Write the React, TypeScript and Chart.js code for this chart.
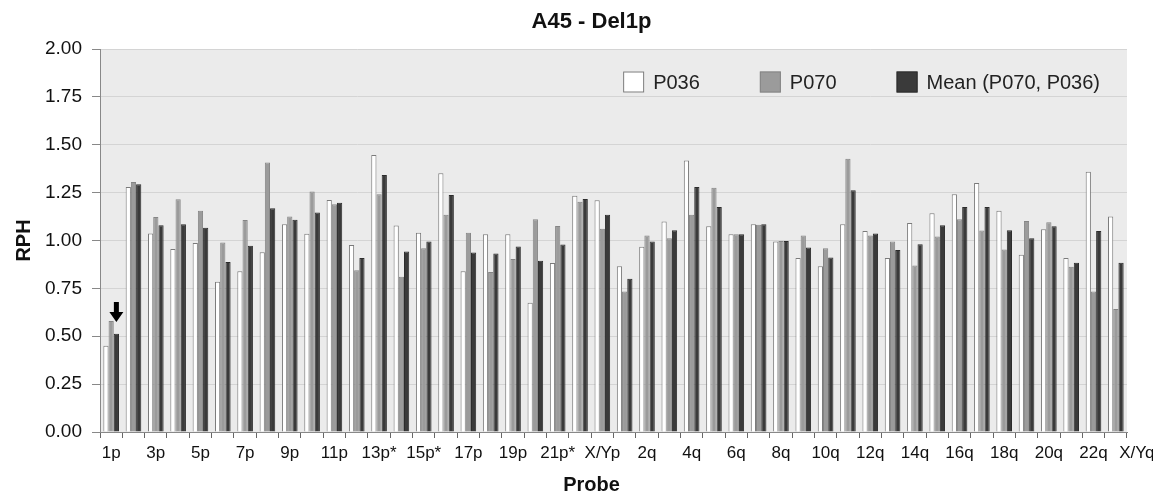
import React, { useEffect, useRef } from "react";
import { Chart, registerables } from "chart.js";

Chart.register(...registerables);

// ---- Data ----
const pArm = [
  "1p", "2p", "3p", "4p", "5p", "6p", "7p", "8p", "9p", "10p", "11p", "12p",
  "13p*", "14p*", "15p*", "16p", "17p", "18p", "19p", "20p", "21p*", "22p*", "X/Yp",
];
const qArm = [
  "1q", "2q", "3q", "4q", "5q", "6q", "7q", "8q", "9q", "10q", "11q", "12q",
  "13q", "14q", "15q", "16q", "17q", "18q", "19q", "20q", "21q", "22q", "X/Yq",
];
const probes = [...pArm, ...qArm];

const p036 = [
  0.45, 1.28, 1.037, 0.956, 0.987, 0.785, 0.84, 0.938, 1.085, 1.035, 1.212, 0.976,
  1.446, 1.078, 1.04, 1.351, 0.84, 1.033, 1.033, 0.675, 0.882, 1.234, 1.21,
  0.865, 0.967, 1.099, 1.418, 1.075, 1.033, 1.085, 0.995, 0.908, 0.866, 1.085, 1.05,
  0.908, 1.092, 1.142, 1.241, 1.3, 1.155, 0.925, 1.059, 0.908, 1.359, 1.125,
];
const p070 = [
  0.579, 1.305, 1.123, 1.215, 1.156, 0.989, 1.107, 1.407, 1.125, 1.256, 1.189, 0.844,
  1.241, 0.811, 0.96, 1.135, 1.04, 0.835, 0.903, 1.111, 1.076, 1.203, 1.061,
  0.734, 1.026, 1.012, 1.135, 1.276, 1.033, 1.082, 0.998, 1.026, 0.96, 1.427, 1.026,
  0.995, 0.87, 1.021, 1.111, 1.052, 0.953, 1.102, 1.095, 0.863, 0.734, 0.642,
];
const meanValues = [
  0.513, 1.294, 1.079, 1.085, 1.067, 0.888, 0.973, 1.168, 1.109, 1.146, 1.197, 0.908,
  1.342, 0.943, 0.995, 1.238, 0.937, 0.932, 0.969, 0.894, 0.979, 1.217, 1.134,
  0.8, 0.995, 1.054, 1.28, 1.175, 1.033, 1.085, 0.998, 0.964, 0.911, 1.262, 1.036,
  0.95, 0.981, 1.08, 1.175, 1.175, 1.054, 1.012, 1.075, 0.884, 1.049, 0.884,
];
const seriesNames = ["P036", "P070", "Mean (P070, P036)"];
const yTicks = [0, 0.25, 0.5, 0.75, 1.0, 1.25, 1.5, 1.75, 2.0];
const chartTitle = "A45 - Del1p";
const xTitle = "Probe";
const yTitle = "RPH";
const markedProbe = "1p";

const FONT = "'Liberation Sans', Arial, Helvetica, sans-serif";
const TEXT = "#111111";

const bgPlugin = {
  id: "plotBg",
  beforeDraw(chart: any) {
    const { ctx, chartArea: a } = chart;
    ctx.save();
    ctx.fillStyle = "#ebebeb";
    ctx.fillRect(a.left, a.top, a.right - a.left, a.bottom - a.top);
    ctx.restore();
  },
};

const decorPlugin = {
  id: "decor",
  afterDraw(chart: any) {
    const { ctx, chartArea: a } = chart;
    const xs = chart.scales.x;
    const ys = chart.scales.y;
    const cx = (a.left + a.right) / 2 - 22;
    ctx.save();

    // Title
    ctx.fillStyle = TEXT;
    ctx.textAlign = "center";
    ctx.textBaseline = "alphabetic";
    ctx.font = `bold 22px ${FONT}`;
    ctx.fillText(chartTitle, cx, 28);

    // X title
    ctx.font = `bold 20px ${FONT}`;
    ctx.fillText(xTitle, cx, 491);

    // Y title
    ctx.save();
    ctx.translate(30, (a.top + a.bottom) / 2);
    ctx.rotate(-Math.PI / 2);
    ctx.textAlign = "center";
    ctx.font = `bold 20px ${FONT}`;
    ctx.fillText(yTitle, 0, 0);
    ctx.restore();

    // Last x label (shifted right, like the reference)
    const last = probes.length - 1;
    const items = xs.getLabelItems ? xs.getLabelItems() : [];
    const ref = items.find((it: any) => it.label);
    ctx.font = `17px ${FONT}`;
    ctx.fillStyle = TEXT;
    ctx.textAlign = "center";
    if (ref) {
      ctx.textBaseline = ref.options.textBaseline;
      ctx.fillText(probes[last], xs.getPixelForValue(last) + 21, ref.options.translation[1] + (ref.textOffset || 0));
    } else {
      ctx.textBaseline = "top";
      ctx.fillText(probes[last], xs.getPixelForValue(last) + 21, a.bottom + 11);
    }

    // Legend
    const ds = chart.data.datasets;
    ctx.font = `20px ${FONT}`;
    const box = 21;
    const gapText = 9;
    const gapItem = 60;
    const widths = ds.map((d: any) => box + gapText + ctx.measureText(d.label).width);
    const total = widths.reduce((s: number, w: number) => s + w, 0) + gapItem * (ds.length - 1);
    let x = a.right - 27 - total;
    const cy = a.top + 33;
    ds.forEach((d: any, i: number) => {
      ctx.fillStyle = d.backgroundColor;
      ctx.fillRect(x, cy - box / 2, box, box);
      ctx.strokeStyle = d.borderColor;
      ctx.lineWidth = 1;
      ctx.strokeRect(x + 0.5, cy - box / 2 + 0.5, box - 1, box - 1);
      ctx.fillStyle = "#222222";
      ctx.textAlign = "left";
      ctx.textBaseline = "middle";
      ctx.fillText(d.label, x + box + gapText, cy + 1);
      x += widths[i] + gapItem;
    });

    // Arrow above the marked probe
    const idx = probes.indexOf(markedProbe);
    const el = chart.getDatasetMeta(2).data[idx];
    if (el) {
      const ax = el.x;
      const tip = ys.getPixelForValue(Math.max(p036[idx], p070[idx], meanValues[idx])) + 1;
      const headH = 10;
      const headW = 14;
      const shaftW = 5;
      const shaftH = 10;
      ctx.fillStyle = "#000";
      ctx.beginPath();
      ctx.moveTo(ax, tip);
      ctx.lineTo(ax - headW / 2, tip - headH);
      ctx.lineTo(ax - shaftW / 2, tip - headH);
      ctx.lineTo(ax - shaftW / 2, tip - headH - shaftH);
      ctx.lineTo(ax + shaftW / 2, tip - headH - shaftH);
      ctx.lineTo(ax + shaftW / 2, tip - headH);
      ctx.lineTo(ax + headW / 2, tip - headH);
      ctx.closePath();
      ctx.fill();
    }

    ctx.restore();
  },
};

export default function App() {
  const ref = useRef<HTMLCanvasElement>(null);

  useEffect(() => {
    document.body.style.margin = "0";
    const canvas = ref.current;
    if (!canvas) return;
    const chart = new Chart(canvas, {
      type: "bar",
      data: {
        labels: probes,
        datasets: [
          { label: seriesNames[0], data: p036, backgroundColor: "#ffffff", borderColor: "#7a7a7a", borderWidth: 1 },
          { label: seriesNames[1], data: p070, backgroundColor: "#9b9b9b", borderColor: "#858585", borderWidth: 1 },
          { label: seriesNames[2], data: meanValues, backgroundColor: "#3a3a3a", borderColor: "#2c2c2c", borderWidth: 1 },
        ],
      },
      options: {
        responsive: true,
        maintainAspectRatio: false,
        animation: false,
        layout: { padding: { top: 49, right: 26, left: 0, bottom: 0 } },
        datasets: { bar: { categoryPercentage: 0.7, barPercentage: 1 } },
        plugins: {
          legend: { display: false },
          title: { display: false },
          tooltip: { enabled: false },
        },
        scales: {
          x: {
            grid: { display: true, drawOnChartArea: false, tickLength: 6, tickColor: "#666", offset: true },
            border: { color: "#888" },
            ticks: {
              autoSkip: false,
              maxRotation: 0,
              minRotation: 0,
              padding: 5,
              color: TEXT,
              font: { family: FONT, size: 17 },
              callback: (_v: any, i: number) => (i % 2 === 0 && i !== probes.length - 1 ? probes[i] : ""),
            },
            afterFit: (s: any) => {
              s.height = 62;
            },
          },
          y: {
            min: 0,
            max: 2,
            afterBuildTicks: (s: any) => {
              s.ticks = yTicks.map((v) => ({ value: v }));
            },
            ticks: {
              padding: 10,
              color: TEXT,
              font: { family: FONT, size: 19 },
              callback: (v: any) => Number(v).toFixed(2),
            },
            grid: { color: "#d4d4d4", tickColor: "#888", tickLength: 8 },
            border: { color: "#888" },
            afterFit: (s: any) => {
              s.width = 100;
            },
          },
        },
      },
      plugins: [bgPlugin, decorPlugin],
    } as any);
    return () => chart.destroy();
  }, []);

  return (
    <div style={{ width: 1153, height: 494, position: "relative" }}>
      <canvas ref={ref} />
    </div>
  );
}
